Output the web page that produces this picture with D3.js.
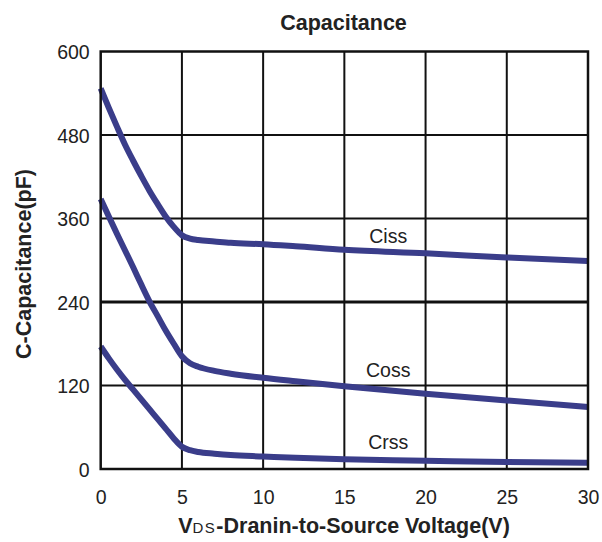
<!DOCTYPE html>
<html>
<head>
<meta charset="utf-8">
<script src="https://cdn.jsdelivr.net/npm/d3@7"></script>
<style>
  html, body { margin: 0; padding: 0; background: #fff; }
  svg { display: block; font-family: "Liberation Sans", Arial, sans-serif; }
</style>
</head>
<body>
<div id="chart"></div>
<script>
// values
const voltage = [0, 0.5, 1, 1.5, 2, 2.5, 3, 3.5, 4, 4.5, 5, 5.5, 6, 7, 8, 10, 12, 15, 20, 25, 30];
const ciss = [547, 519, 492, 466, 443, 421, 400, 381, 363, 348, 336, 331, 329, 327, 325, 323, 320, 315, 310, 304, 299];
const coss = [388, 363, 338, 314, 290, 265, 241, 220, 199, 180, 162, 152, 147, 141, 137, 131, 126, 119, 108, 98.5, 89];
const crss = [176, 159, 143, 128, 114, 100, 86, 72, 58, 44, 32, 27, 24.5, 22, 20, 18, 16, 14, 12, 10, 9];

const xTicks = [0, 5, 10, 15, 20, 25, 30];
const yTicks = [0, 120, 240, 360, 480, 600];

const seriesNames = ["Ciss", "Coss", "Crss"];
const seriesValues = [ciss, coss, crss];
// label anchors in data units (voltage, pF)
const labelAt = [[17.7, 325], [17.7, 132], [17.7, 29]];

const width = 602, height = 542;
const margin = { top: 51.5, right: 14, bottom: 73, left: 100.7 };

const svg = d3.select("#chart").append("svg")
  .attr("width", width)
  .attr("height", height);

const x = d3.scaleLinear().domain([0, 30]).range([margin.left, width - margin.right]);
const y = d3.scaleLinear().domain([0, 600]).range([height - margin.bottom, margin.top]);

// grid
const grid = svg.append("g");
grid.selectAll("line.v")
  .data(xTicks.slice(1, -1))
  .enter().append("line")
  .attr("x1", d => x(d)).attr("x2", d => x(d))
  .attr("y1", y(0)).attr("y2", y(600))
  .attr("stroke", "#111").attr("stroke-width", 2);

grid.selectAll("line.h")
  .data(yTicks.slice(1, -1))
  .enter().append("line")
  .attr("x1", x(0)).attr("x2", x(30))
  .attr("y1", d => y(d)).attr("y2", d => y(d))
  .attr("stroke", "#111")
  .attr("stroke-width", d => d === 240 ? 3 : 2);

// curves
const line = d3.line()
  .x((d, i) => x(voltage[i]))
  .y(d => y(d))
  .curve(d3.curveMonotoneX);

svg.append("g")
  .selectAll("path")
  .data(seriesValues)
  .enter().append("path")
  .attr("d", line)
  .attr("fill", "none")
  .attr("stroke", "#3a3d8a")
  .attr("stroke-width", 6)
  .attr("stroke-linejoin", "round");

// frame
svg.append("rect")
  .attr("x", x(0)).attr("y", y(600))
  .attr("width", x(30) - x(0)).attr("height", y(0) - y(600))
  .attr("fill", "none")
  .attr("stroke", "#111")
  .attr("stroke-width", 2.5);

// axes (labels only, the frame draws the lines)
const xAxis = svg.append("g")
  .attr("transform", `translate(0,${y(0)})`)
  .call(d3.axisBottom(x).tickValues(xTicks).tickSize(0).tickPadding(21));
const yAxis = svg.append("g")
  .attr("transform", `translate(${x(0)},0)`)
  .call(d3.axisLeft(y).tickValues(yTicks).tickSize(0).tickPadding(11));
[xAxis, yAxis].forEach(a => {
  a.select(".domain").remove();
  a.selectAll("text")
    .attr("font-family", '"Liberation Sans", Arial, sans-serif')
    .attr("font-size", 19.5)
    .attr("fill", "#222");
});
yAxis.selectAll("text").attr("dy", "0.36em");

// series labels
svg.append("g")
  .selectAll("text")
  .data(seriesNames)
  .enter().append("text")
  .attr("x", (d, i) => x(labelAt[i][0]))
  .attr("y", (d, i) => y(labelAt[i][1]))
  .attr("text-anchor", "middle")
  .attr("font-size", 19.5)
  .attr("fill", "#222")
  .text(d => d);

// title
svg.append("text")
  .attr("x", 343.5).attr("y", 30)
  .attr("text-anchor", "middle")
  .attr("font-size", 21.5)
  .attr("font-weight", "bold")
  .attr("fill", "#222")
  .text("Capacitance");

// x axis title
const xt = svg.append("text")
  .attr("x", 344).attr("y", 533)
  .attr("text-anchor", "middle")
  .attr("font-size", 21.5)
  .attr("font-weight", "bold")
  .attr("fill", "#222");
xt.append("tspan").text("V");
xt.append("tspan").attr("font-size", 15).attr("font-weight", "normal").attr("letter-spacing", 1.5).text("DS");
xt.append("tspan").text("-Dranin-to-Source Voltage(V)");

// y axis title
svg.append("text")
  .attr("transform", "translate(31,264) rotate(-90)")
  .attr("text-anchor", "middle")
  .attr("font-size", 21.5)
  .attr("font-weight", "bold")
  .attr("fill", "#222")
  .text("C-Capacitance(pF)");
</script>
</body>
</html>
